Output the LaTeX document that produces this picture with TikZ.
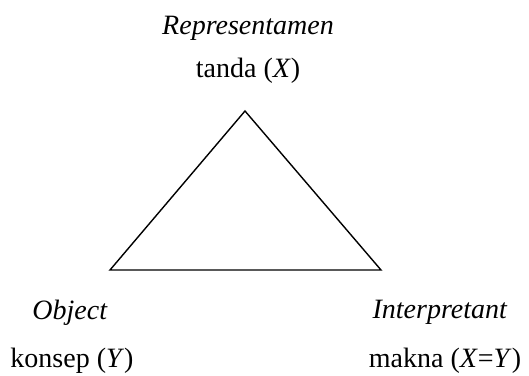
\documentclass[tikz,border=0pt]{standalone}
\usepackage{fontspec}
\setmainfont{Liberation Serif}
\begin{document}
\begin{tikzpicture}[x=1pt,y=-1pt,
  every node/.style={inner sep=0pt, font=\fontsize{28}{32}\selectfont},
  lab/.style={anchor=base},
  edge/.style={line width=1.4pt, line join=miter}]
\useasboundingbox (0,0) rectangle (529,375);
\coordinate (R) at (245,111);
\coordinate (O) at (110,270);
\coordinate (I) at (381,270);
\draw[edge] (R) -- (O) -- (I) -- cycle;
\node[lab] (rt) at (248,34) {\textit{Representamen}};
\node[lab] (rs) at (248,77) {tanda (\textit{X})};
\node[lab] (ot) at (70,319) {\textit{Object}};
\node[lab] (os) at (72,367) {konsep (\textit{Y})};
\node[lab] (it) at (440,318) {\textit{Interpretant}};
\node[lab] (is) at (445,367) {makna (\textit{X}=\textit{Y})};
\end{tikzpicture}
\end{document}
